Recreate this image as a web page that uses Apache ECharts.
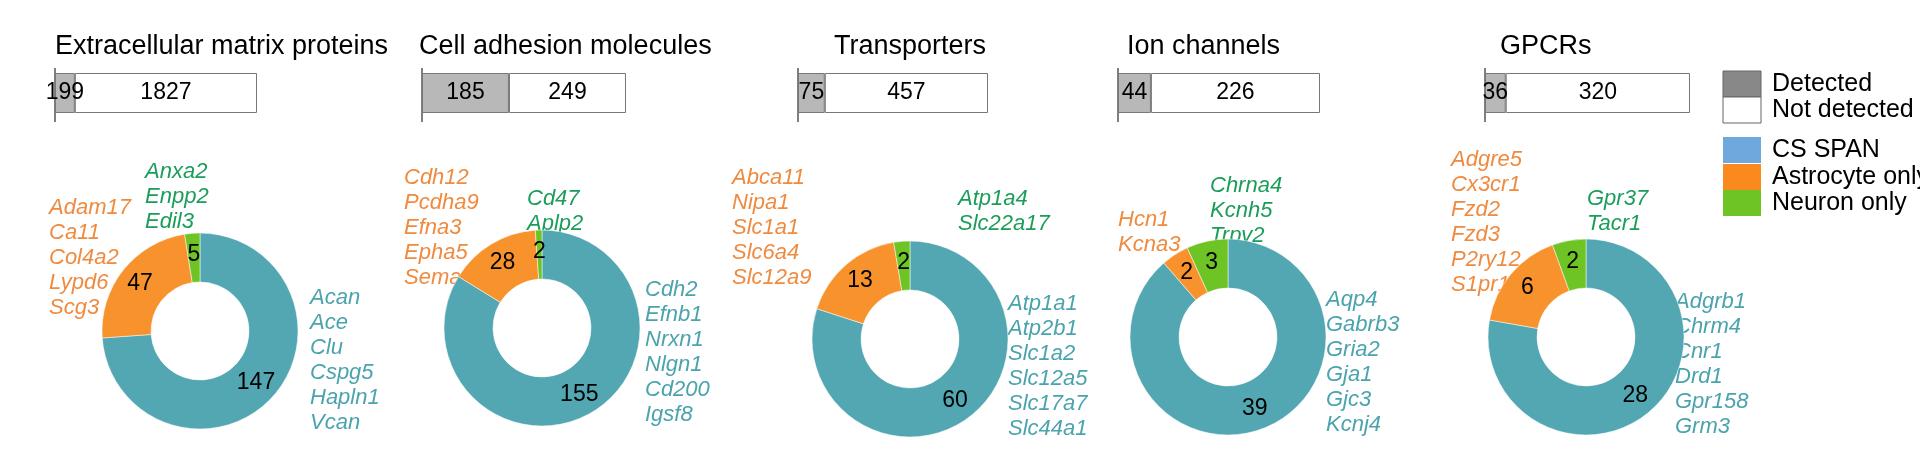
<!DOCTYPE html>
<html><head><meta charset="utf-8">
<script src="https://cdn.jsdelivr.net/npm/echarts@6/dist/echarts.min.js"></script>
<style>html,body{margin:0;padding:0;background:#fff}#c{width:1920px;height:470px}</style>
</head><body><div id="c"></div>
<script>
const categories = ['Extracellular matrix proteins','Cell adhesion molecules','Transporters','Ion channels','GPCRs'];
const detected = [199,185,75,44,36];
const notDetected = [1827,249,457,226,320];
const csSpan = [147,155,60,39,28];
const astroOnly = [47,28,13,2,6];
const neuronOnly = [5,2,2,3,2];
const astroGenes = [['Adam17','Ca11','Col4a2','Lypd6','Scg3'],['Cdh12','Pcdha9','Efna3','Epha5','Sema4b'],['Abca11','Nipa1','Slc1a1','Slc6a4','Slc12a9'],['Hcn1','Kcna3'],['Adgre5','Cx3cr1','Fzd2','Fzd3','P2ry12','S1pr1']];
const neuronGenes = [['Anxa2','Enpp2','Edil3'],['Cd47','Aplp2'],['Atp1a4','Slc22a17'],['Chrna4','Kcnh5','Trpv2'],['Gpr37','Tacr1']];
const csGenes = [['Acan','Ace','Clu','Cspg5','Hapln1','Vcan'],['Cdh2','Efnb1','Nrxn1','Nlgn1','Cd200','Igsf8'],['Atp1a1','Atp2b1','Slc1a2','Slc12a5','Slc17a7','Slc44a1'],['Aqp4','Gabrb3','Gria2','Gja1','Gjc3','Kcnj4'],['Adgrb1','Chrm4','Cnr1','Drd1','Gpr158','Grm3']];
const legendItems = ['Detected','Not detected','CS SPAN','Astrocyte only','Neuron only'];

// layout
const barX = [[55,257],[422,626],[798,988],[1118,1320],[1485,1690]];
const titleX = [[55,'left'],[419,'left'],[910,'center'],[1127,'left'],[1500,'left']];
const pieC = [[200,331],[542,328],[910,339],[1228,337],[1586,337]];
const astroPos = [[49,208],[404,178],[732,178],[1118,220],[1451,160]];
const neuPos = [[145,172],[527,199],[958,199],[1210,186],[1587,199]];
const csPos = [[310,298],[645,290],[1008,304],[1326,300],[1675,302]];
const LH = 25;
const C_TEAL='#52a7b2', C_OR='#f7922d', C_GR='#6ec425';
const T_TEAL='#4aa3ad', T_OR='#ef8a3e', T_GR='#1b9d5a';

const grid=[],xAxis=[],yAxis=[],series=[],graphic=[];
categories.forEach((cat,i)=>{
  const [x0,x1]=barX[i];
  grid.push({left:x0,width:x1-x0,top:73,height:40});
  xAxis.push({gridIndex:i,type:'value',min:0,max:detected[i]+notDetected[i],show:false});
  yAxis.push({gridIndex:i,type:'category',data:[cat],axisLine:{show:false},axisTick:{show:false},axisLabel:{show:false}});
  const lab={show:true,position:'inside',color:'#000',fontSize:23,fontFamily:'Liberation Sans'};
  series.push({type:'bar',stack:'s'+i,xAxisIndex:i,yAxisIndex:i,barWidth:40,data:[detected[i]],itemStyle:{color:'#b8b8b8',borderColor:'#777',borderWidth:1},label:lab,silent:true});
  series.push({type:'bar',stack:'s'+i,xAxisIndex:i,yAxisIndex:i,barWidth:40,data:[notDetected[i]],itemStyle:{color:'#fff',borderColor:'#777',borderWidth:1},label:lab,silent:true});
  graphic.push({type:'line',shape:{x1:x0,y1:68,x2:x0,y2:122},style:{stroke:'#555',lineWidth:1.5}});
  graphic.push({type:'text',x:titleX[i][0],y:33,style:{text:cat,fontSize:27,fontFamily:'Liberation Sans',fill:'#000',textAlign:titleX[i][1]}});
  series.push({type:'pie',center:pieC[i],radius:[49,98],startAngle:90,clockwise:true,silent:true,
    label:{show:true,position:'inside',color:'#000',fontSize:23,fontFamily:'Liberation Sans',formatter:'{c}'},
    labelLine:{show:false},
    itemStyle:{borderColor:'#fff',borderWidth:0.5},
    data:[{value:csSpan[i],itemStyle:{color:C_TEAL}},{value:astroOnly[i],itemStyle:{color:C_OR}},{value:neuronOnly[i],itemStyle:{color:C_GR}}]});
  const addList=(list,pos,col)=>list.forEach((g,k)=>graphic.push({type:'text',x:pos[0],y:pos[1]+k*LH,style:{text:g,fontSize:22,fontStyle:'italic',fontFamily:'Liberation Sans',fill:col,textVerticalAlign:'middle'}}));
  addList(astroGenes[i],astroPos[i],T_OR);
  addList(neuronGenes[i],neuPos[i],T_GR);
  addList(csGenes[i],csPos[i],T_TEAL);
});
const legCols=['#888','#fff','#6fa8dc','#fb8a1e','#6ec425'];
const legY=[84,110,150,177,203];
legendItems.forEach((t,k)=>{
  graphic.push({type:'rect',shape:{x:1723,y:legY[k]-13,width:38,height:26},style:{fill:legCols[k],stroke:k<2?'#666':null,lineWidth:1}});
  graphic.push({type:'text',x:1772,y:legY[k],style:{text:t,fontSize:25,fontFamily:'Liberation Sans',fill:'#000',textVerticalAlign:'middle'}});
});
const chart=echarts.init(document.getElementById('c'));
chart.setOption({animation:false,grid,xAxis,yAxis,series,graphic});
</script></body></html>
